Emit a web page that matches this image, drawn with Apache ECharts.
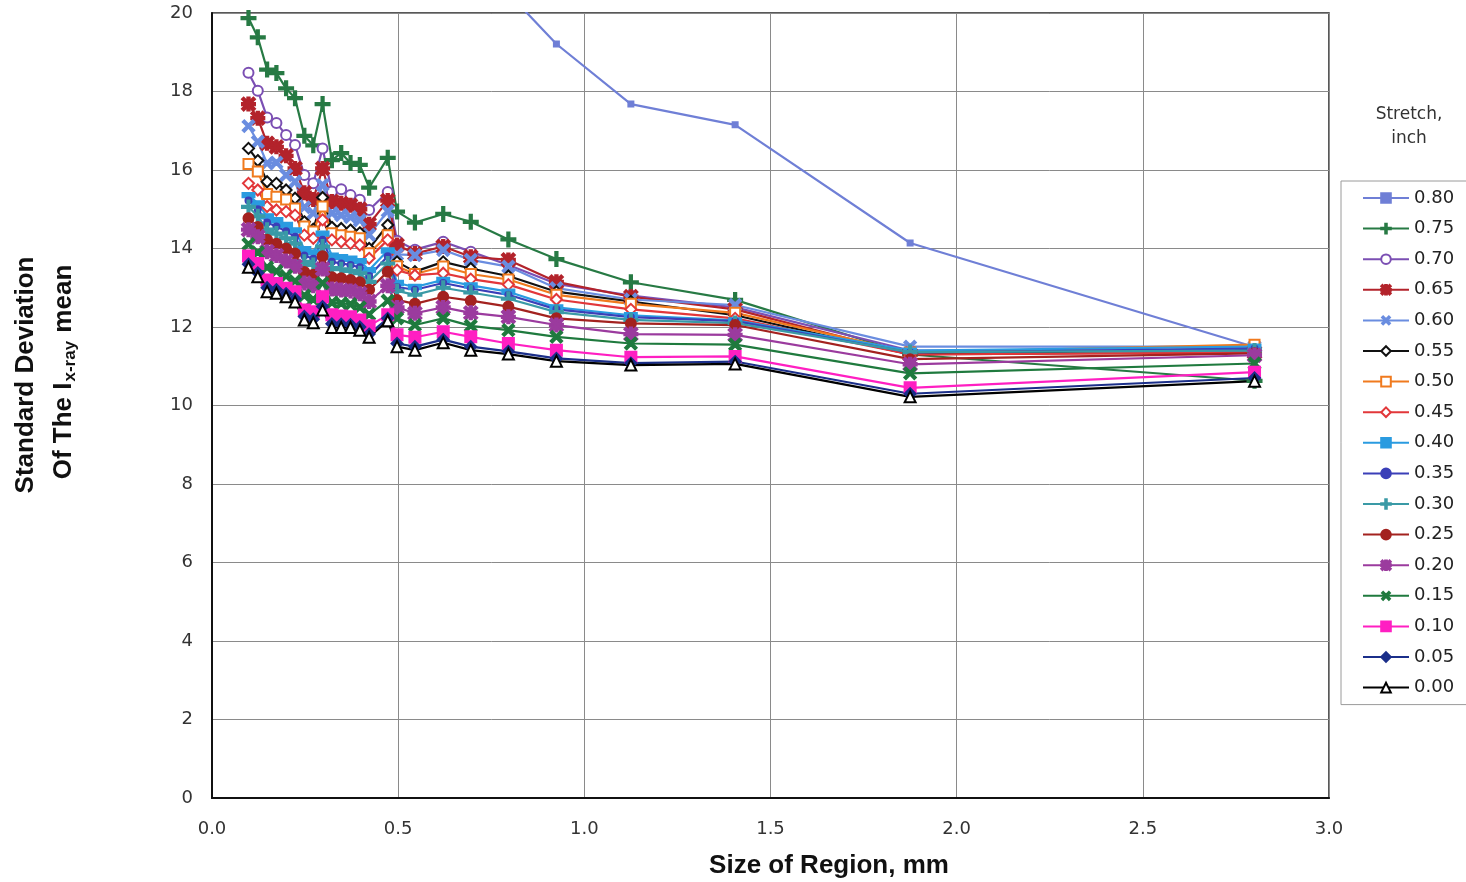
<!DOCTYPE html>
<html>
<head>
<meta charset="utf-8">
<script src="https://cdn.jsdelivr.net/npm/echarts@6/dist/echarts.min.js"></script>
<style>
html,body{margin:0;padding:0;background:#fff;}
#chart{width:1466px;height:882px;}
</style>
</head>
<body>
<div id="chart"></div>
<script>
// Size of region, mm
const X = [0.098,0.123,0.148,0.173,0.199,0.223,0.248,0.272,0.297,0.322,0.347,0.372,0.397,0.422,0.472,0.497,0.545,0.621,0.695,0.796,0.925,1.125,1.405,1.875,2.80];

const seriesNames = ['0.80','0.75','0.70','0.65','0.60','0.55','0.50','0.45','0.40','0.35','0.30','0.25','0.20','0.15','0.10','0.05','0.00'];

const s080 = [null,null,null,null,null,null,null,null,null,null,null,null,null,null,null,null,null,null,null,20.5,19.21,17.68,17.15,14.14,11.49];
const s075 = [19.87,19.38,18.56,18.47,18.08,17.83,16.87,16.63,17.68,16.25,16.43,16.18,16.13,15.55,16.31,14.94,14.66,14.88,14.68,14.23,13.73,13.14,12.69,11.30,10.63];
const s070 = [18.48,18.02,17.34,17.20,16.89,16.64,15.87,15.66,16.55,15.45,15.51,15.36,15.24,14.98,15.44,14.20,13.97,14.17,13.92,13.58,13.10,12.80,12.50,11.40,11.40];
const s065 = [17.68,17.32,16.68,16.59,16.36,16.04,15.42,15.25,16.04,15.20,15.15,15.10,15.00,14.62,15.22,14.09,13.87,14.05,13.79,13.71,13.15,12.77,12.45,11.30,11.35];
const s060 = [17.12,16.72,16.17,16.19,15.87,15.70,15.05,14.90,15.62,14.90,14.85,14.80,14.72,14.35,14.95,13.85,13.83,13.96,13.71,13.54,12.99,12.70,12.56,11.50,11.50];
const s055 = [16.55,16.24,15.70,15.66,15.49,15.28,14.68,14.49,15.30,14.54,14.51,14.47,14.40,14.00,14.60,13.66,13.41,13.66,13.49,13.30,12.90,12.65,12.30,11.30,11.45];
const s050 = [16.15,15.96,15.39,15.32,15.25,15.02,14.56,14.43,15.07,14.39,14.34,14.30,14.26,13.88,14.34,13.55,13.35,13.54,13.35,13.21,12.82,12.59,12.36,11.35,11.55];
const s045 = [15.66,15.49,15.07,14.98,14.94,14.85,14.34,14.26,14.73,14.22,14.17,14.13,14.09,13.75,14.22,13.45,13.32,13.37,13.22,13.08,12.70,12.45,12.22,11.30,11.35];
const s040 = [15.36,15.15,14.82,14.72,14.60,14.46,13.98,13.90,14.38,13.82,13.78,13.74,13.68,13.45,13.95,13.12,13.02,13.20,13.06,12.90,12.50,12.30,12.17,11.40,11.50];
const s035 = [15.22,15.00,14.66,14.56,14.44,14.30,13.82,13.74,14.22,13.66,13.62,13.58,13.52,13.30,13.80,13.02,12.95,13.12,12.98,12.82,12.45,12.25,12.15,11.35,11.45];
const s030 = [15.06,14.82,14.48,14.38,14.26,14.12,13.66,13.58,14.05,13.50,13.47,13.43,13.37,13.15,13.62,12.92,12.82,13.00,12.88,12.72,12.38,12.18,12.10,11.36,11.40];
const s025 = [14.77,14.55,14.22,14.12,14.00,13.87,13.40,13.33,13.80,13.27,13.24,13.20,13.14,12.95,13.41,12.69,12.59,12.77,12.67,12.52,12.22,12.09,12.05,11.18,11.33];
const s020 = [14.48,14.30,13.92,13.82,13.68,13.55,13.12,13.05,13.48,12.97,12.94,12.92,12.85,12.65,13.05,12.50,12.35,12.50,12.36,12.26,12.05,11.82,11.80,11.05,11.28];
const s015 = [14.11,13.90,13.52,13.42,13.30,13.17,12.80,12.70,13.12,12.62,12.60,12.58,12.50,12.32,12.67,12.22,12.05,12.22,12.03,11.92,11.75,11.58,11.55,10.82,11.07];
const s010 = [13.81,13.62,13.20,13.11,12.99,12.90,12.43,12.39,12.77,12.31,12.28,12.26,12.18,12.03,12.31,11.80,11.74,11.88,11.75,11.58,11.41,11.23,11.25,10.45,10.85];
const s005 = [13.60,13.38,13.00,12.95,12.85,12.72,12.27,12.20,12.52,12.08,12.07,12.06,12.00,11.82,12.22,11.58,11.50,11.68,11.50,11.38,11.20,11.08,11.12,10.30,10.70];
const s000 = [13.52,13.28,12.90,12.86,12.77,12.64,12.18,12.11,12.43,11.99,11.99,11.99,11.92,11.74,12.16,11.50,11.41,11.60,11.41,11.31,11.13,11.03,11.06,10.22,10.62];

const seriesValues = [s080,s075,s070,s065,s060,s055,s050,s045,s040,s035,s030,s025,s020,s015,s010,s005,s000];

const PLUS = 'path://M4.2,0H5.8V4.2H10V5.8H5.8V10H4.2V5.8H0V4.2H4.2Z';
const STAR = 'path://M4.1,0H5.9V4.1H10V5.9H5.9V10H4.1V5.9H0V4.1H4.1Z M0,1.3L1.3,0L10,8.7L8.7,10Z M8.7,0L10,1.3L1.3,10L0,8.7Z';

const styles = [
  {color:'#6f7fd6', symbol:'rect', size:5},
  {color:'#277a44', symbol:PLUS, size:14},
  {color:'#7b4fb3', symbol:'emptyCircle', size:10},
  {color:'#b3232b', symbol:STAR, size:13},
  {color:'#6a8de0', symbol:PLUS, size:14, rotate:45},
  {color:'#111111', symbol:'emptyDiamond', size:11},
  {color:'#f07a1e', symbol:'emptyRect', size:10},
  {color:'#e2373a', symbol:'emptyDiamond', size:11},
  {color:'#2a9be0', symbol:'rect', size:[11,5]},
  {color:'#3b3fb8', symbol:'circle', size:6},
  {color:'#3a9aa6', symbol:PLUS, size:13},
  {color:'#a3221f', symbol:'circle', size:10},
  {color:'#9b3b9e', symbol:STAR, size:13},
  {color:'#1f7a3e', symbol:PLUS, size:14, rotate:45},
  {color:'#ff1fc2', symbol:'rect', size:11},
  {color:'#1b2f8a', symbol:'diamond', size:11},
  {color:'#000000', symbol:'emptyTriangle', size:11}
];

const series = seriesNames.map((name, k) => {
  const st = styles[k];
  return {
    name: name,
    type: 'line',
    data: X.map((x, i) => [x, seriesValues[k][i]]),
    symbol: st.symbol,
    symbolSize: st.size,
    symbolRotate: st.rotate || 0,
    showAllSymbol: true,
    clip: true,
    lineStyle: {color: st.color, width: 2.2},
    itemStyle: {color: st.color, borderColor: st.color, borderWidth: 2}
  };
});

const chart = echarts.init(document.getElementById('chart'), null, {renderer: 'canvas'});
chart.setOption({
  animation: false,
  backgroundColor: '#ffffff',
  grid: {left: 212, top: 13, width: 1117, height: 785, outerBoundsMode: 'none', containLabel: false,
         show: true, borderColor: '#222', borderWidth: 1.5, backgroundColor: 'transparent'},
  xAxis: {
    type: 'value', min: 0, max: 3, interval: 0.5,
    axisLine: {show: true, lineStyle: {color: '#111', width: 2}},
    axisTick: {show: false},
    axisLabel: {formatter: v => v.toFixed(1), fontFamily: 'DejaVu Sans', fontSize: 18, color: '#333', margin: 22},
    splitLine: {show: true, lineStyle: {color: '#8a8a8a', width: 1}}
  },
  yAxis: {
    type: 'value', min: 0, max: 20, interval: 2,
    axisLine: {show: true, lineStyle: {color: '#111', width: 2}},
    axisTick: {show: false},
    axisLabel: {fontFamily: 'DejaVu Sans', fontSize: 18, color: '#333', margin: 19},
    splitLine: {show: true, lineStyle: {color: '#8a8a8a', width: 1}}
  },
  legend: {
    orient: 'vertical', left: 1341, top: 181,
    data: seriesNames,
    itemWidth: 46, itemHeight: 12, itemGap: 10.6,
    padding: [7, 20, 7, 21],
    borderColor: '#9a9a9a', borderWidth: 1,
    textStyle: {fontFamily: 'DejaVu Sans', fontSize: 18, color: '#222', lineHeight: 20}
  },
  graphic: [
    {type: 'text', x: 1409, y: 115, style: {text: 'Stretch,', font: '17px "DejaVu Sans"', fill: '#333', align: 'center', verticalAlign: 'middle'}},
    {type: 'text', x: 1409, y: 139, style: {text: 'inch', font: '17px "DejaVu Sans"', fill: '#333', align: 'center', verticalAlign: 'middle'}},
    {type: 'text', x: 829, y: 866, style: {text: 'Size of Region, mm', font: 'bold 26px "Liberation Sans"', fill: '#111', align: 'center', verticalAlign: 'middle'}},
    {type: 'text', x: 26, y: 375, rotation: Math.PI / 2, style: {text: 'Standard Deviation', font: 'bold 26px "Liberation Sans"', fill: '#111', align: 'center', verticalAlign: 'middle'}},
    {type: 'text', x: 64, y: 372, rotation: Math.PI / 2, style: {
      text: '{a|Of The I}{b|x-ray}{a| mean}',
      align: 'center', verticalAlign: 'middle',
      rich: {
        a: {font: 'bold 26px "Liberation Sans"', fill: '#111', lineHeight: 30, verticalAlign: 'middle'},
        b: {font: 'bold 17px "Liberation Sans"', fill: '#111', lineHeight: 14, verticalAlign: 'bottom', padding: [0, 1, 0, 1]}
      }
    }}
  ],
  series: series
});
</script>
</body>
</html>
